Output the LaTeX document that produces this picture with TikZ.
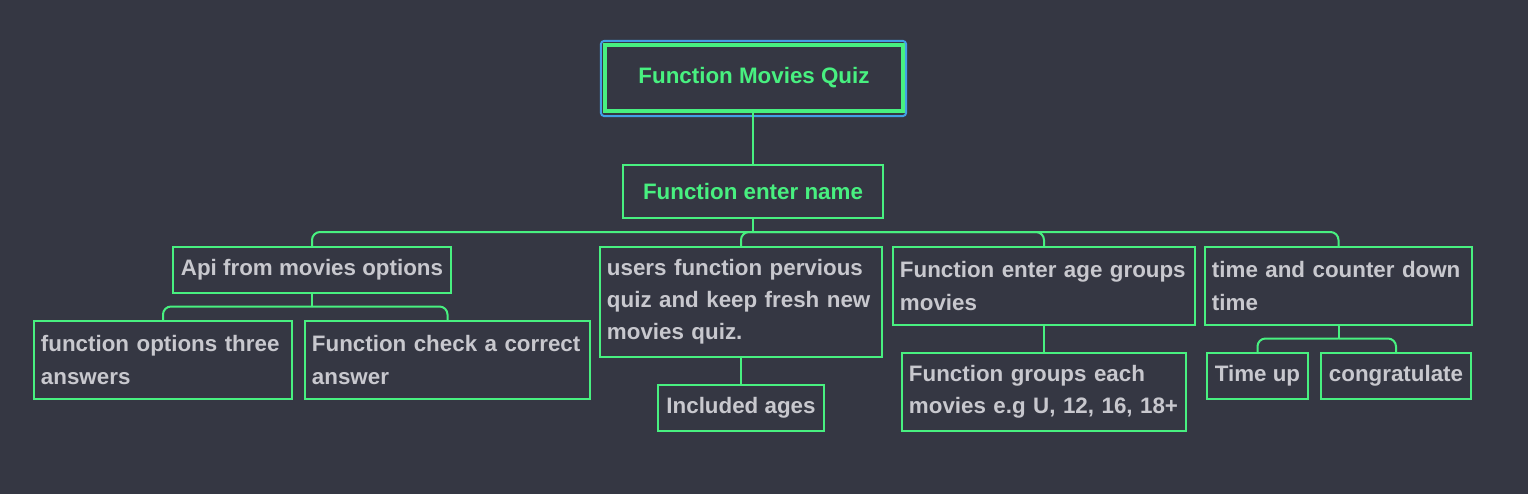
\documentclass[tikz,border=0pt]{standalone}
\usepackage{fontspec}
\setmainfont{Liberation Sans}
\usetikzlibrary{calc}
\definecolor{slatebg}{RGB}{53,55,67}
\definecolor{mindgreen}{RGB}{72,240,128}
\definecolor{mindgrey}{RGB}{200,200,206}
\definecolor{mindblue}{RGB}{66,160,230}

\begin{document}
\begin{tikzpicture}[x=.025cm, y=-.025cm, every node/.style={font=\fontsize{15.9}{22.8}\selectfont\bfseries}]
\tikzstyle{topic} = [rectangle, draw=mindgreen, line width=.05cm, text=mindgrey, inner xsep=.175cm, inner ysep=0cm]
\tikzstyle{para} = [topic, align=left, minimum height=1.925cm]
\tikzstyle{leaf} = [topic, align=center, minimum height=1.125cm]
\tikzstyle{link} = [draw=mindgreen, line width=.05cm]

\fill[slatebg] (0,0) rectangle (1528,494);
\useasboundingbox (0,0) rectangle (1528,494);

\node (root) [topic, line width=.1cm, text=mindgreen, minimum width=7.45cm, minimum height=1.65cm] at (754,78) {Function Movies Quiz};
\draw[mindblue, line width=.05cm, rounded corners=.075cm] ($(root.north west)+(-2,-2)$) rectangle ($(root.south east)+(1,3)$);

\node (enter) [topic, text=mindgreen, minimum width=6.5cm, minimum height=1.325cm] at (753,191.5) {Function enter name};

\node (api) [leaf, minimum width=6.95cm] at (312,270) {Api from movies options};
\node (users) [para, text width=6.7cm, minimum height=2.725cm] at (741,302) {users function pervious\\quiz and keep fresh new\\movies quiz.};
\node (age) [para, text width=7.2cm] at (1044,286) {Function enter age groups\\movies};
\node (clock) [para, text width=6.325cm] at (1338.5,286) {time and counter down\\time};

\node (opt3) [para, text width=6.1cm] at (163,360) {function options three\\answers};
\node (check) [para, text width=6.775cm] at (447.5,360) {Function check a correct\\answer};
\node (ages) [leaf, minimum width=4.125cm] at (741,408) {Included ages};
\node (groups) [para, text width=6.75cm] at (1044,392) {Function groups each\\movies e.g U, 12, 16, 18+};
\node (timeup) [leaf, minimum width=2.525cm] at (1257.5,376) {Time up};
\node (congrats) [leaf, minimum width=3.75cm] at (1396,376) {congratulate};

\coordinate (bus1) at ($(enter.south)+(0,13)$);
\coordinate (bus2) at ($(api.south)+(0,13)$);
\coordinate (bus3) at ($(clock.south)+(0,13)$);

\draw[link] (enter.north |- root.south) -- (enter.north);
\draw[link] (enter.south) -- (bus1);
\draw[link, rounded corners=.2cm] (bus1) -| (api.north);
\draw[link, rounded corners=.2cm] (bus1) -| (users.north);
\draw[link, rounded corners=.2cm] (bus1) -| (age.north);
\draw[link, rounded corners=.2cm] (bus1) -| (clock.north);

\draw[link] (api.south) -- (bus2);
\draw[link, rounded corners=.2cm] (bus2) -| (opt3.north);
\draw[link, rounded corners=.2cm] (bus2) -| (check.north);

\draw[link] (users.south) -- (ages.north);
\draw[link] (age.south) -- (groups.north);

\draw[link] (clock.south) -- (bus3);
\draw[link, rounded corners=.2cm] (bus3) -| (timeup.north);
\draw[link, rounded corners=.2cm] (bus3) -| (congrats.north);

\end{tikzpicture}
\end{document}
